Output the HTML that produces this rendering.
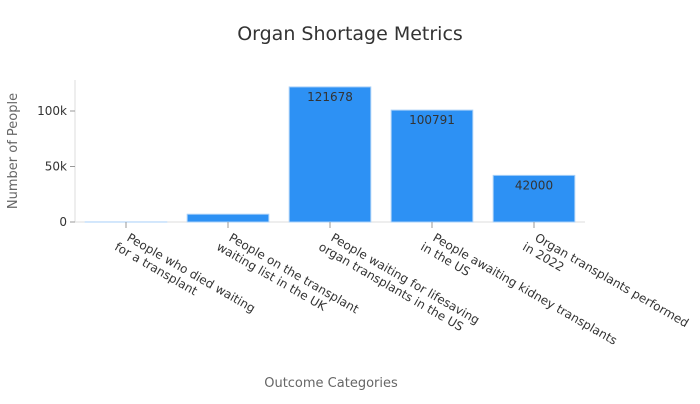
<!DOCTYPE html>
<html><head><meta charset="utf-8"><style>
body{margin:0;background:#fff;font-family:"DejaVu Sans","Liberation Sans",sans-serif;}
</style></head><body>
<svg id="chart" width="700" height="400" xmlns="http://www.w3.org/2000/svg">
<text x="350" y="40" text-anchor="middle" font-size="19" fill="#333">Organ Shortage Metrics</text>
<text transform="translate(17,151) rotate(-90)" text-anchor="middle" font-size="13" fill="#666">Number of People</text>
<text x="331" y="387" text-anchor="middle" font-size="13" fill="#666">Outcome Categories</text>
<g id="plot"></g>
</svg>
<script>
const categories=[["People who died waiting","for a transplant"],["People on the transplant","waiting list in the UK"],["People waiting for lifesaving","organ transplants in the US"],["People awaiting kidney transplants","in the US"],["Organ transplants performed","in 2022"]];
const values=[17,7000,121678,100791,42000];
const yTicks=[0,50000,100000];
const yTickLabels=["0","50k","100k"];
const X0=75,X1=585,Y0=222,pxPer=55.5/50000;
const ns="http://www.w3.org/2000/svg",g=document.getElementById('plot');
function y(v){return Y0-v*pxPer;}
const band=(X1-X0)/categories.length,bw=band*0.8;
function bx(i){return X0+band*i+(band-bw)/2;}
function mk(t,a){const e=document.createElementNS(ns,t);for(const k in a)e.setAttribute(k,a[k]);g.appendChild(e);return e;}
let ax=mk('line',{x1:X0,x2:X0,y1:80,y2:Y0,stroke:'#ddd'});


let bx2=mk('line',{x1:X0,x2:X1,y1:Y0,y2:Y0,stroke:'#ddd'});


yTicks.forEach((t,i)=>{
 const l=mk('line',{x1:X0-5,x2:X0,y1:y(t),y2:y(t),stroke:'#999'});
 
 
 const tx=mk('text',{x:X0-8,y:y(t)+4,'text-anchor':'end','font-size':12,fill:'#333'});
 tx.textContent=yTickLabels[i];
 
 
});
values.forEach((v,i)=>{
 const r=mk('rect',{x:bx(i),y:y(v),width:bw,height:Y0-y(v),fill:'#2d91f4',stroke:'#a8d0f8','stroke-width':1});
 
 
 const cx=bx(i)+bw/2;
 if(Y0-y(v)>20){
  const t=mk('text',{x:cx,y:y(v)+14,'text-anchor':'middle','font-size':12,fill:'#333'});
  t.textContent=v;
  
  
 }
 const tk=mk('line',{x1:cx,x2:cx,y1:Y0,y2:Y0+6,stroke:'#999'});
 
 
 const lab=mk('text',{transform:`translate(${cx},${Y0+18}) rotate(30)`,'text-anchor':'start','font-size':12,fill:'#333'});
 
 
 categories[i].forEach((s,j)=>{
  const ts=document.createElementNS(ns,'tspan');
  ts.setAttribute('x',j===0?0:-6);ts.setAttribute('dy',j===0?0:14);
  ts.setAttribute('text-anchor',j===0?'start':'start');
  ts.textContent=s;lab.appendChild(ts);
 });
});
</script>
</body></html>
